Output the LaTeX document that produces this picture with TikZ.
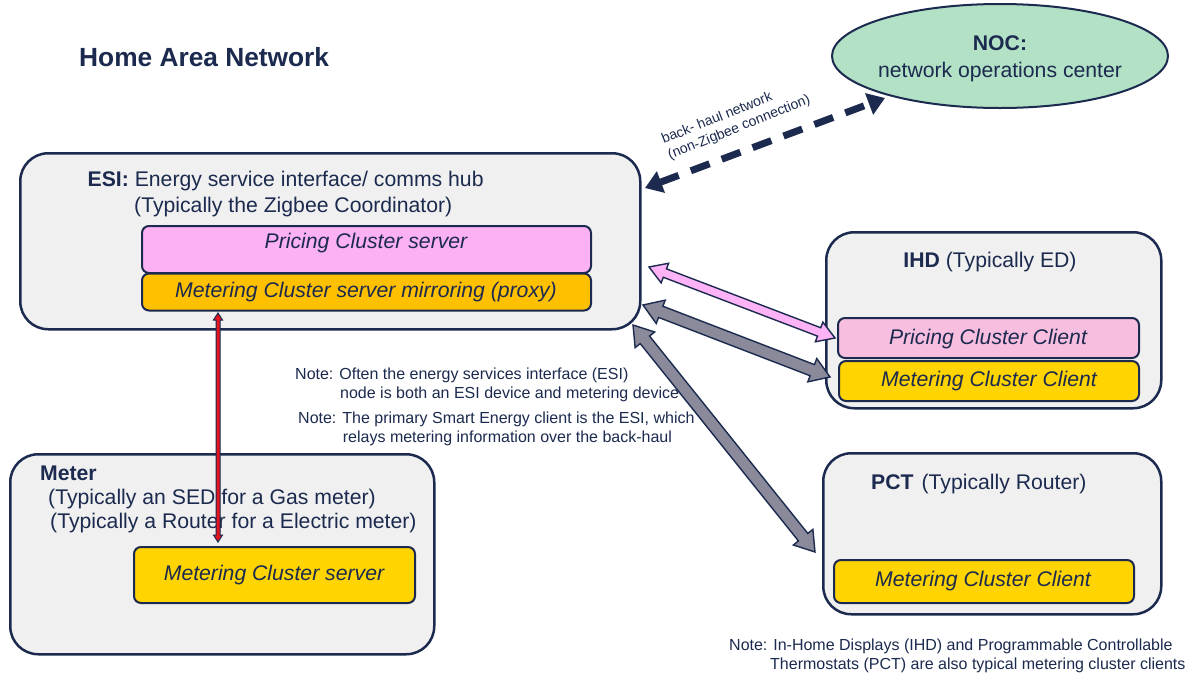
\documentclass[tikz,border=0pt]{standalone}
\usepackage{fontspec}
\setmainfont{Liberation Sans}
\usetikzlibrary{arrows.meta,calc,shapes.geometric}
\definecolor{navy}{HTML}{1B2A4E}
\definecolor{boxgray}{HTML}{F0F0F0}
\definecolor{nocgreen}{HTML}{B3E1C6}
\definecolor{srvpink}{HTML}{FCB2F2}
\definecolor{clipink}{HTML}{F7BEE0}
\definecolor{mirror}{HTML}{FFC000}
\definecolor{gold}{HTML}{FFD400}
\definecolor{arrpink}{HTML}{FDB3F5}
\definecolor{arrgray}{HTML}{8A8A9A}
\definecolor{arrred}{HTML}{E5141E}
% fat double arrow: from, to, fill, shaft half width, head half width, head length, outline width
\newcommand\fatarrow[7]{%
 \filldraw[fill=#3,draw=navy,line width=#7,line join=miter,miter limit=6]
  (#1) -- ($(#1)!#6!(#2)!#5!90:(#2)$) -- ($(#1)!#6!(#2)!#4!90:(#2)$)
  -- ($(#2)!#6!(#1)!-#4!90:(#1)$) -- ($(#2)!#6!(#1)!-#5!90:(#1)$)
  -- (#2) -- ($(#2)!#6!(#1)!#5!90:(#1)$) -- ($(#2)!#6!(#1)!#4!90:(#1)$)
  -- ($(#1)!#6!(#2)!-#4!90:(#2)$) -- ($(#1)!#6!(#2)!-#5!90:(#2)$) -- cycle;}
\tikzset{
 outerbox/.style={draw=navy,line width=2.5pt,fill=boxgray,rounded corners=28pt,anchor=north west,inner sep=0pt},
 innerbox/.style={draw=navy,line width=2pt,rounded corners=7pt,anchor=north west,inner sep=0pt},
 big/.style={font=\fontsize{21.2}{25}\selectfont,text=navy,inner sep=0pt},
 small/.style={font=\fontsize{16}{19}\selectfont,text=navy,inner sep=0pt,anchor=base west},
 tiny/.style={font=\fontsize{14}{16.8}\selectfont,text=navy,inner sep=0pt,align=left,rotate=21.8},
 backhaul/.style={draw=navy,line width=7pt,dash pattern=on 20pt off 13pt,
   arrows={Triangle[length=17pt,width=22pt]-Triangle[length=17pt,width=22pt]}}
}
\begin{document}
\begin{tikzpicture}[x=1pt,y=-1pt]
\useasboundingbox (0,0) rectangle (1200,675);
\fill[white] (0,0) rectangle (1200,675);

% title
\node[big,font=\fontsize{26.3}{30}\selectfont\bfseries,anchor=base west] (title) at (79,66.5) {Home Area Network};

% NOC
\node[ellipse,draw=navy,line width=2pt,fill=nocgreen,minimum width=336pt,minimum height=104pt,inner sep=0pt] (noc) at (1000,56) {};
\node[big,anchor=base] (noct1) at (1000,50.5) {\bfseries NOC:};
\node[big,anchor=base] (noct2) at (1000,77) {network operations center};

% ESI
\node[outerbox,minimum width=620pt,minimum height=176pt] (esi) at (19,152) {};
\node[big,anchor=base west] (esit1) at (87.5,186) {\textbf{ESI:} Energy service interface/ comms hub};
\node[big,anchor=base west] (esit2) at (134,212) {(Typically the Zigbee Coordinator)};
\node[innerbox,fill=srvpink,minimum width=449pt,minimum height=47pt] (pricesrv) at (141,225) {};
\node[innerbox,fill=mirror,minimum width=449pt,minimum height=37pt] (mirrorsrv) at (141,272.5) {};
\node[big,anchor=base] (pricesrvt) at (366,248) {\itshape Pricing Cluster server};
\node[big,anchor=base] (mirrorsrvt) at (366,297) {\itshape Metering Cluster server mirroring (proxy)};

% IHD
\node[outerbox,minimum width=335pt,minimum height=176pt] (ihd) at (825,231) {};
\node[big,anchor=base] (ihdt) at (990,267) {\textbf{IHD} (Typically ED)};
\node[innerbox,fill=clipink,minimum width=301pt,minimum height=40pt] (ihdprice) at (837,317) {};
\node[innerbox,fill=gold,minimum width=300pt,minimum height=40pt] (ihdmeter) at (838,360) {};
\node[big,anchor=base] (ihdpricet) at (988,344) {\itshape Pricing Cluster Client};
\node[big,anchor=base] (ihdmetert) at (989,386) {\itshape Metering Cluster Client};

% PCT
\node[outerbox,minimum width=338pt,minimum height=161pt] (pct) at (822,452) {};
\node[big,anchor=base west] (pctt) at (871,489) {\textbf{PCT}\hspace{8pt}(Typically Router)};
\node[innerbox,fill=gold,minimum width=300pt,minimum height=43pt] (pctmeter) at (833,559) {};
\node[big,anchor=base] (pctmetert) at (983,586.5) {\itshape Metering Cluster Client};

% Meter
\node[outerbox,minimum width=424pt,minimum height=200pt] (meter) at (9,453) {};
\node[big,anchor=base west] (metert1) at (40,480) {\bfseries Meter};
\node[big,anchor=base west] (metert2) at (48,504) {(Typically an SED for a Gas meter)};
\node[big,anchor=base west] (metert3) at (50,528) {(Typically a Router for a Electric meter)};
\node[innerbox,fill=gold,minimum width=281pt,minimum height=56pt] (metersrv) at (133,546) {};
\node[big,anchor=base] (metersrvt) at (274,580.5) {\itshape Metering Cluster server};

% notes
\node[small] (n1) at (295,379.3) {Note: Often the energy services interface (ESI)};
\node[small] (n2) at (340,398.3) {node is both an ESI device and metering device};
\node[small] (n3) at (298,423.3) {Note: The primary Smart Energy client is the ESI, which};
\node[small] (n4) at (342.7,442.7) {relays metering information over the back-haul};
\node[small] (n5) at (729,650.7) {Note: In-Home Displays (IHD) and Programmable Controllable};
\node[small] (n6) at (770,669) {Thermostats (PCT) are also typical metering cluster clients};

% back-haul label (anchor at the baseline of its last line)
\node[tiny,anchor=base west] (bh) at (670,159.5) {back- haul network\\(non-Zigbee connection)};

% connector end points
\coordinate (bhA) at (645,188);
\coordinate (bhB) at (885,98);
\coordinate (pinkA) at (649,267);
\coordinate (pinkB) at (835,338);
\coordinate (grayA) at (643,305);
\coordinate (grayB) at (830,377);
\coordinate (grayC) at (633,325);
\coordinate (grayD) at (815,552);
\coordinate (redA) at (218,313);
\coordinate (redB) at (218,542);

% connectors
\draw[backhaul] (bhA) -- (bhB);
\fatarrow{pinkA}{pinkB}{arrpink}{4.5pt}{10.5pt}{17pt}{1.4pt}
\fatarrow{grayA}{grayB}{arrgray}{6pt}{12.5pt}{19pt}{1.4pt}
\fatarrow{grayC}{grayD}{arrgray}{6pt}{12.5pt}{19pt}{1.4pt}
\fatarrow{redA}{redB}{arrred}{2pt}{4.5pt}{7pt}{1pt}
\end{tikzpicture}
\end{document}
